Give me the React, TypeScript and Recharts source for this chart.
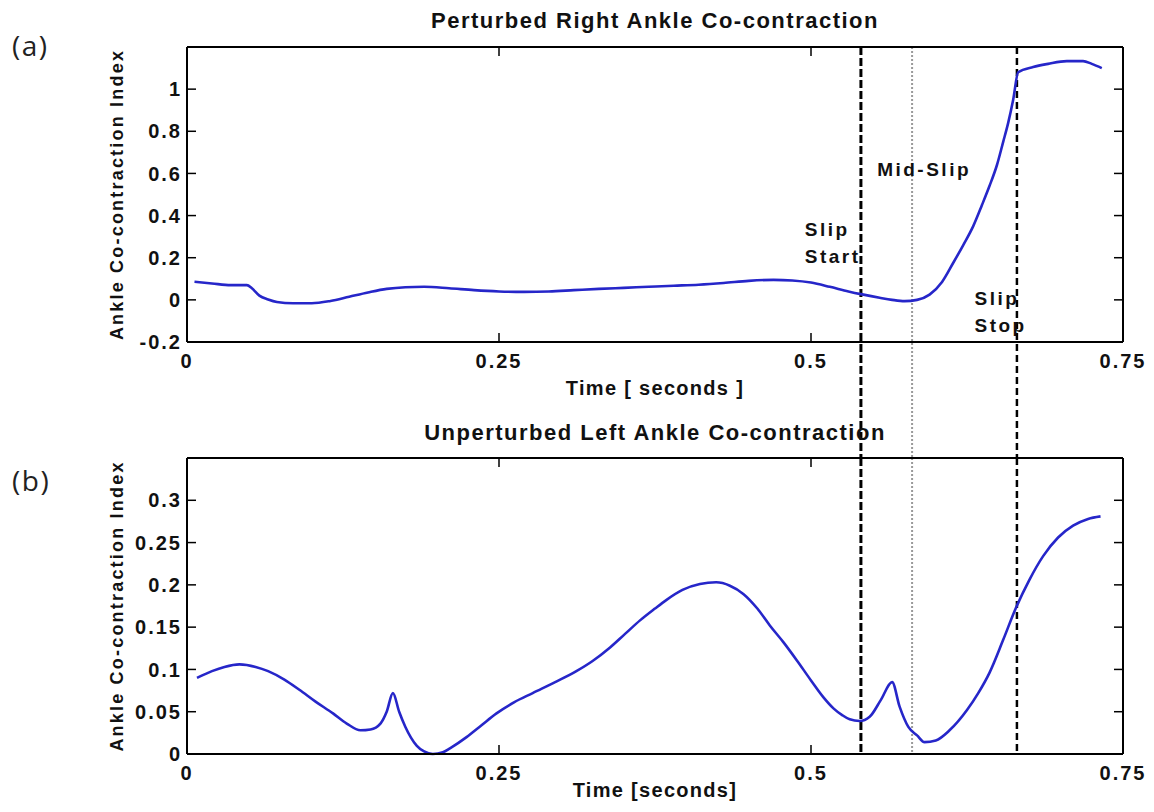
import React from 'react';
import { LineChart, Line, XAxis, YAxis, ReferenceLine, ReferenceDot, Label } from 'recharts';

const FONT = "'Liberation Sans', Arial, Helvetica, sans-serif";
const CURVE = '#2626c9';
const INK = '#111';

// time axis shared by both panels
const timeTicks = [0, 0.25, 0.5, 0.75];

// (a) perturbed right ankle
const perturbedTime = [
  0.006, 0.02, 0.035, 0.048, 0.052, 0.058, 0.065, 0.072, 0.085, 0.1, 0.115, 0.13, 0.145, 0.16, 0.175,
  0.19, 0.21, 0.23, 0.25, 0.27, 0.29, 0.31, 0.33, 0.35, 0.37, 0.39, 0.41, 0.43, 0.45, 0.47, 0.485,
  0.5, 0.515, 0.53, 0.541, 0.555, 0.565, 0.575, 0.585, 0.595, 0.605, 0.614, 0.622, 0.63, 0.637,
  0.643, 0.649, 0.654, 0.658, 0.662, 0.666, 0.678, 0.69, 0.705, 0.718, 0.725, 0.733,
];
const perturbedIndex = [
  0.086, 0.078, 0.07, 0.07, 0.055, 0.02, 0.002, -0.01, -0.016, -0.016, -0.005, 0.015, 0.035, 0.052, 0.06,
  0.062, 0.055, 0.046, 0.04, 0.038, 0.04, 0.046, 0.052, 0.057, 0.062, 0.067, 0.072, 0.08, 0.09, 0.095, 0.092,
  0.082, 0.062, 0.04, 0.026, 0.01, 0.0, -0.006, 0.0, 0.025, 0.085, 0.176, 0.26, 0.35, 0.45,
  0.54, 0.64, 0.75, 0.84, 0.95, 1.08, 1.105, 1.12, 1.133, 1.133, 1.12, 1.1,
];
const perturbedTicks = [-0.2, 0, 0.2, 0.4, 0.6, 0.8, 1];

// (b) unperturbed left ankle
const unperturbedTime = [
  0.008, 0.02, 0.03, 0.042, 0.055, 0.065, 0.078, 0.09, 0.103, 0.117, 0.128, 0.139, 0.147, 0.155, 0.16,
  0.165, 0.17, 0.175, 0.184, 0.19, 0.197, 0.205, 0.211, 0.224, 0.236, 0.248, 0.262, 0.277, 0.295, 0.312,
  0.325, 0.339, 0.351, 0.363, 0.375, 0.384, 0.397, 0.411, 0.424, 0.435, 0.446, 0.457, 0.467, 0.478,
  0.489, 0.5, 0.51, 0.518, 0.525, 0.531, 0.539, 0.547, 0.556, 0.565, 0.571, 0.578, 0.585, 0.591, 0.6,
  0.611, 0.625, 0.634, 0.643, 0.654, 0.664, 0.675, 0.686, 0.698, 0.71, 0.722, 0.732,
];
const unperturbedIndex = [
  0.09, 0.098, 0.103, 0.106, 0.103, 0.098, 0.088, 0.076, 0.062, 0.048, 0.036, 0.028, 0.029, 0.036, 0.05,
  0.072, 0.05, 0.032, 0.01, 0.003, 0.0, 0.002, 0.007, 0.02, 0.034, 0.048, 0.061, 0.072, 0.085, 0.098,
  0.11, 0.126, 0.142, 0.158, 0.172, 0.182, 0.194, 0.201, 0.203, 0.199, 0.189, 0.172, 0.152, 0.132,
  0.11, 0.087, 0.067, 0.054, 0.046, 0.041, 0.039, 0.044, 0.064, 0.085, 0.056, 0.032, 0.022, 0.014, 0.016,
  0.028, 0.052, 0.072, 0.096, 0.135, 0.172, 0.206, 0.234, 0.256, 0.27, 0.278, 0.281,
];
const unperturbedTicks = [0, 0.05, 0.1, 0.15, 0.2, 0.25, 0.3];

// slip events: start, mid-slip, stop
const eventTimes = [0.54, 0.581, 0.665];

const perturbedRows = perturbedTime.map((t, i) => ({ t, v: perturbedIndex[i] }));
const unperturbedRows = unperturbedTime.map((t, i) => ({ t, v: unperturbedIndex[i] }));

const EVENT_STYLE = [
  { stroke: '#000', strokeWidth: 3, strokeDasharray: '8 3' },
  { stroke: '#9a9a9a', strokeWidth: 2, strokeDasharray: '2 2' },
  { stroke: '#000', strokeWidth: 2.5, strokeDasharray: '7 4' },
];

const axisLine = { stroke: '#000', strokeWidth: 2 };
const tickLine = { stroke: '#000', strokeWidth: 1.5 };
const tickFont = { fontFamily: FONT, fontSize: 20, fontWeight: 'bold', fill: INK, letterSpacing: 2 };
const labelFont = { fontFamily: FONT, fontWeight: 'bold', fill: INK };

const TOP_BELOW_PLOT = 116; // x-axis band + bottom margin of panel (a)

// vertical event line; `extend` carries it past the bottom of the plot
const eventLine = (style: any, extend: number) => (p: any) => {
  const y1 = Math.min(p.y1, p.y2);
  const y2 = Math.max(p.y1, p.y2) + extend;
  return <line x1={p.x1} x2={p.x2} y1={y1} y2={y2} fill="none" {...style} />;
};

const Note = ({ cx, cy, lines }: { cx: number; cy: number; lines: string[] }) => (
  <text x={cx} y={cy} fontFamily={FONT} fontSize={19} fontWeight="bold" fill={INK} letterSpacing={2.5}>
    {lines.map((s, i) => (
      <tspan key={s} x={cx} dy={i === 0 ? 0 : 27}>
        {s}
      </tspan>
    ))}
  </text>
);

const noteShape = (lines: string[]) => (p: any) => <Note cx={p.cx} cy={p.cy} lines={lines} />;

export default function App() {
  return (
    <div style={{ position: 'absolute', left: 0, top: 0, width: 1154, height: 812, background: '#fff' }}>
      <div style={{ position: 'absolute', left: 0, top: 0 }}>
        <LineChart width={1154} height={458} data={perturbedRows} margin={{ top: 46, right: 30, bottom: 56, left: 117 }}>
          <XAxis
            dataKey="t"
            type="number"
            domain={[0, 0.75]}
            ticks={timeTicks}
            interval={0}
            height={60}
            tickSize={-9}
            tickMargin={21}
            axisLine={axisLine}
            tickLine={tickLine}
            tick={tickFont}
          >
            <Label value="Time [ seconds ]" position="insideBottom" offset={7} fontSize={20} style={{ letterSpacing: '1.3px' }} {...labelFont} />
          </XAxis>
          <XAxis
            xAxisId="top"
            orientation="top"
            dataKey="t"
            type="number"
            domain={[0, 0.75]}
            ticks={timeTicks}
            interval={0}
            height={1}
            tickSize={-9}
            axisLine={axisLine}
            tickLine={tickLine}
            tickFormatter={() => ''}
          >
            <Label value="Perturbed Right Ankle Co-contraction" position="top" offset={18} fontSize={22} style={{ letterSpacing: '1.5px' }} {...labelFont} />
          </XAxis>
          <YAxis
            type="number"
            domain={[-0.2, 1.2]}
            ticks={perturbedTicks}
            interval={0}
            width={70}
            tickSize={-9}
            tickMargin={14}
            axisLine={axisLine}
            tickLine={tickLine}
            tick={tickFont}
          >
            <Label
              value="Ankle Co-contraction Index"
              angle={-90}
              position="insideLeft"
              offset={0}
              fontSize={18}
              style={{ textAnchor: 'middle', letterSpacing: '2.2px' }}
              {...labelFont}
            />
          </YAxis>
          <YAxis
            yAxisId="right"
            orientation="right"
            type="number"
            domain={[-0.2, 1.2]}
            ticks={perturbedTicks}
            interval={0}
            width={1}
            tickSize={-9}
            axisLine={axisLine}
            tickLine={tickLine}
            tickFormatter={() => ''}
          />
          {eventTimes.map((t, i) => (
            <ReferenceLine key={t} x={t} shape={eventLine(EVENT_STYLE[i], TOP_BELOW_PLOT)} />
          ))}
          {/* same series on the mirrored axes so the box's top and right sides get drawn */}
          <Line xAxisId="top" yAxisId="right" dataKey="v" stroke="transparent" dot={false} activeDot={false} isAnimationActive={false} />
          <Line dataKey="v" type="monotone" stroke={CURVE} strokeWidth={2.6} dot={false} isAnimationActive={false} />
          <ReferenceDot x={0.495} y={0.305} r={0} shape={noteShape(['Slip', 'Start'])} />
          <ReferenceDot x={0.553} y={0.586} r={0} shape={noteShape(['Mid-Slip'])} />
          <ReferenceDot x={0.631} y={-0.024} r={0} shape={noteShape(['Slip', 'Stop'])} />
        </LineChart>
      </div>

      <div style={{ position: 'absolute', left: 0, top: 400 }}>
        <LineChart width={1154} height={412} data={unperturbedRows} margin={{ top: 57, right: 30, bottom: 0, left: 117 }}>
          <XAxis
            dataKey="t"
            type="number"
            domain={[0, 0.75]}
            ticks={timeTicks}
            interval={0}
            height={58}
            tickSize={-9}
            tickMargin={21}
            axisLine={axisLine}
            tickLine={tickLine}
            tick={tickFont}
          >
            <Label value="Time [seconds]" position="insideBottom" offset={15} fontSize={20} style={{ letterSpacing: '1.3px' }} {...labelFont} />
          </XAxis>
          <XAxis
            xAxisId="top"
            orientation="top"
            dataKey="t"
            type="number"
            domain={[0, 0.75]}
            ticks={timeTicks}
            interval={0}
            height={1}
            tickSize={-9}
            axisLine={axisLine}
            tickLine={tickLine}
            tickFormatter={() => ''}
          >
            <Label value="Unperturbed Left Ankle Co-contraction" position="top" offset={17} fontSize={22} style={{ letterSpacing: '1.5px' }} {...labelFont} />
          </XAxis>
          <YAxis
            type="number"
            domain={[0, 0.35]}
            ticks={unperturbedTicks}
            interval={0}
            width={70}
            tickSize={-9}
            tickMargin={14}
            axisLine={axisLine}
            tickLine={tickLine}
            tick={tickFont}
          >
            <Label
              value="Ankle Co-contraction Index"
              angle={-90}
              position="insideLeft"
              offset={0}
              fontSize={18}
              style={{ textAnchor: 'middle', letterSpacing: '2.2px' }}
              {...labelFont}
            />
          </YAxis>
          <YAxis
            yAxisId="right"
            orientation="right"
            type="number"
            domain={[0, 0.35]}
            ticks={unperturbedTicks}
            interval={0}
            width={1}
            tickSize={-9}
            axisLine={axisLine}
            tickLine={tickLine}
            tickFormatter={() => ''}
          />
          {eventTimes.map((t, i) => (
            <ReferenceLine key={t} x={t} shape={eventLine(EVENT_STYLE[i], 0)} />
          ))}
          <Line xAxisId="top" yAxisId="right" dataKey="v" stroke="transparent" dot={false} activeDot={false} isAnimationActive={false} />
          <Line dataKey="v" type="monotone" stroke={CURVE} strokeWidth={2.6} dot={false} isAnimationActive={false} />
        </LineChart>
      </div>

      <svg width={80} height={520} style={{ position: 'absolute', left: 0, top: 0 }}>
        <text x={12} y={56} fontFamily="'Open Sans', sans-serif" fontSize={28} fill="#222" letterSpacing={1.5}>
          (a)
        </text>
        <text x={12} y={491} fontFamily="'Open Sans', sans-serif" fontSize={28} fill="#222" letterSpacing={1.5}>
          (b)
        </text>
      </svg>
    </div>
  );
}
